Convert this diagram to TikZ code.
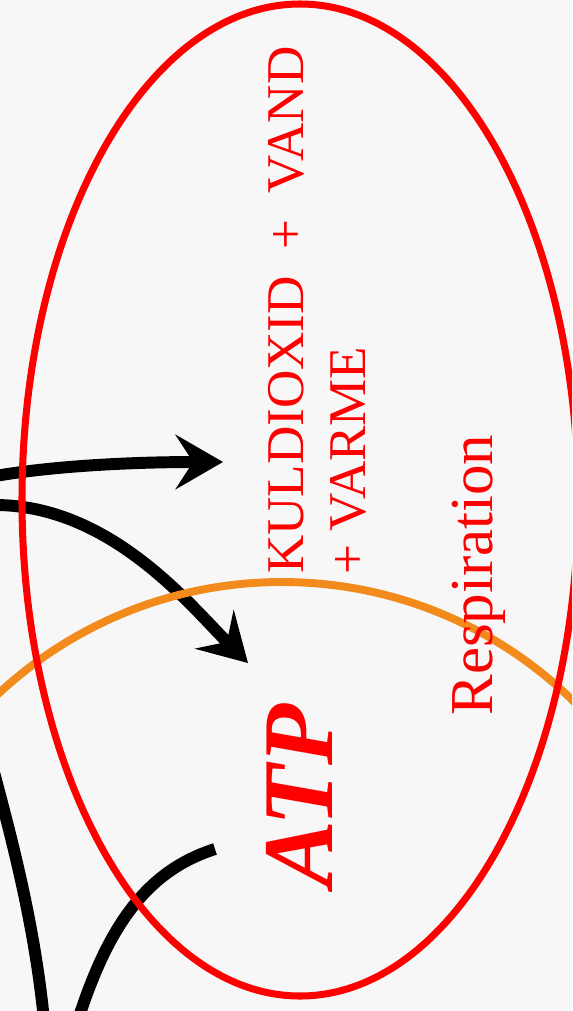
\documentclass[tikz,border=0pt]{standalone}
\usepackage{fontspec}
\setmainfont{Liberation Serif}
\usetikzlibrary{arrows.meta}
\definecolor{baggrund}{RGB}{247,247,247}
\definecolor{appelsin}{RGB}{242,138,28}

\begin{document}
\begin{tikzpicture}[x=0.02cm,y=-0.02cm,
        pil/.style={line width=6.8pt,black},
        spids/.style={-{Stealth[length=27pt,width=31pt,inset=10pt]}},
        tekst/.style={red,rotate=90,anchor=base west,inner sep=0pt}]
    \fill[baggrund,use as bounding box] (0,0) rectangle (572,1011);
    \clip (0,0) rectangle (572,1011);
    % pilene ind fra venstre
    \coordinate (spids1) at (223,462);
    \coordinate (spids2) at (248,663);
    \draw[pil,spids] (-5,476) .. controls (60,465) and (140,462) .. (spids1);
    \draw[pil,spids] (-5,505) .. controls (110,505) and (190,605) .. (spids2);
    \draw[pil] (-8,765) .. controls (15,850) and (35,930) .. (44,1020);
    \draw[pil] (215,849) .. controls (150,870) and (110,920) .. (78,1020);
    % cirkel og ellipse
    \draw[appelsin,line width=4.5pt] (282,998) circle [radius=416];
    \draw[red,line width=4pt] (300,500) ellipse [x radius=278, y radius=496];
    % tekster
    \node[tekst,font=\fontsize{57pt}{68pt}\selectfont\bfseries\itshape] (atp) at (332,888) {ATP};
    \node[tekst,font=\fontsize{30.2pt}{36pt}\selectfont] (kuldioxid) at (303,574) {KULDIOXID~ + ~VAND};
    \node[tekst,font=\fontsize{30.2pt}{36pt}\selectfont] (varme) at (365,575) {+ VARME};
    \node[tekst,font=\fontsize{34.7pt}{40pt}\selectfont] (respiration) at (492,716) {Respiration};
\end{tikzpicture}
\end{document}
